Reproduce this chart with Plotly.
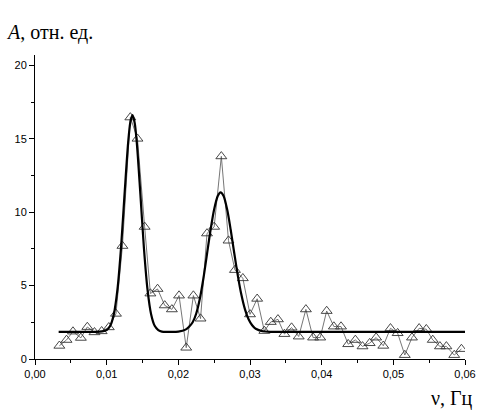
import plotly.graph_objects as go

# Measured spectrum (triangles)
freq = [0.0034, 0.0044, 0.0053, 0.0064, 0.0073, 0.0083, 0.0093, 0.0103, 0.0113, 0.0122,
        0.0133, 0.0143, 0.0153, 0.0161, 0.0171, 0.0181, 0.0191, 0.0201, 0.0211, 0.0221,
        0.0231, 0.0240, 0.0250, 0.0260, 0.0270, 0.0279, 0.0290, 0.0300, 0.0310, 0.0320,
        0.0329, 0.0339, 0.0348, 0.0358, 0.0368, 0.0378, 0.0388, 0.0398, 0.0407, 0.0417,
        0.0427, 0.0437, 0.0447, 0.0457, 0.0467, 0.0476, 0.0486, 0.0496, 0.0506, 0.0516,
        0.0526, 0.0536, 0.0546, 0.0555, 0.0565, 0.0574, 0.0585, 0.0595]
amp = [0.90, 1.30, 1.87, 1.44, 2.18, 1.82, 1.89, 2.16, 3.08, 7.70,
       16.45, 15.00, 9.00, 4.46, 4.77, 3.65, 3.38, 4.32, 0.77, 4.32,
       2.75, 8.55, 9.00, 13.80, 8.06, 6.06, 5.50, 3.04, 4.10, 1.91,
       2.52, 2.70, 1.70, 2.14, 1.53, 3.38, 1.46, 1.46, 3.27, 2.21,
       2.21, 1.01, 1.30, 0.86, 1.08, 1.46, 0.90, 2.09, 1.76, 0.27,
       1.46, 2.09, 2.03, 1.30, 0.86, 0.86, 0.27, 0.68]

# Fitted curve
fit_freq = [0.0033, 0.0060, 0.0080, 0.0090, 0.0100, 0.0105, 0.0110, 0.0115, 0.0120, 0.0125,
            0.0130, 0.0133, 0.0136, 0.0139, 0.0142, 0.0147, 0.0152, 0.0157, 0.0162, 0.0167,
            0.0172, 0.0177, 0.0190, 0.0200, 0.0210, 0.0215, 0.0220, 0.0225, 0.0230, 0.0235,
            0.0240, 0.0245, 0.0250, 0.0255, 0.0259, 0.0263, 0.0268, 0.0273, 0.0278, 0.0283,
            0.0288, 0.0293, 0.0298, 0.0303, 0.0308, 0.0318, 0.0330, 0.0400, 0.0500, 0.0600]
fit_amp = [1.85, 1.85, 1.85, 1.86, 1.97, 2.26, 3.05, 4.72, 7.55, 11.26,
           14.75, 16.11, 16.60, 16.11, 14.75, 11.26, 7.55, 4.72, 3.05, 2.26,
           1.97, 1.86, 1.85, 1.87, 2.00, 2.20, 2.50, 3.10, 4.10, 5.50,
           7.15, 8.80, 10.20, 11.10, 11.35, 11.11, 10.21, 8.82, 7.22, 5.68,
           4.37, 3.38, 2.71, 2.30, 2.06, 1.89, 1.85, 1.85, 1.85, 1.85]

x_ticks = [0.00, 0.01, 0.02, 0.03, 0.04, 0.05, 0.06]
y_ticks = [0, 5, 10, 15, 20]

fig = go.Figure()
fig.add_trace(go.Scatter(
    x=freq, y=amp, mode="lines+markers",
    line=dict(color="#666666", width=0.9),
    marker=dict(symbol="triangle-up-open", size=9.5, color="#333333", line=dict(width=0.9)),
    showlegend=False, hoverinfo="skip"))
fig.add_trace(go.Scatter(
    x=fit_freq, y=fit_amp, mode="lines",
    line=dict(color="black", width=2.2, shape="spline", smoothing=0.8),
    showlegend=False, hoverinfo="skip"))

tickfont = dict(family="Liberation Sans, Arial, sans-serif", size=11, color="black")
fig.update_layout(
    width=488, height=413,
    margin=dict(l=35, r=14, t=55, b=54),
    paper_bgcolor="white", plot_bgcolor="white",
    separators=", ",
    xaxis=dict(range=[0, 0.06], tickvals=x_ticks, tickformat=".2f",
               showgrid=False, zeroline=False, showline=True, linecolor="black", linewidth=1,
               ticks="outside", ticklen=5, tickwidth=1, tickcolor="black", tickfont=tickfont,
               minor=dict(dtick=0.005, ticks="outside", ticklen=3, tickcolor="black", showgrid=False)),
    yaxis=dict(range=[0, 20.7], tickvals=y_ticks,
               showgrid=False, zeroline=False, showline=True, linecolor="black", linewidth=1,
               ticks="outside", ticklen=5, tickwidth=1, tickcolor="black", tickfont=tickfont,
               minor=dict(dtick=2.5, ticks="outside", ticklen=3, tickcolor="black", showgrid=False)),
    annotations=[
        dict(text="<i>A</i>, отн. ед.", xref="paper", yref="paper",
             x=-0.072, y=1.074, xanchor="left", yanchor="middle", showarrow=False,
             font=dict(family="Liberation Serif, Times New Roman, serif", size=20, color="black")),
        dict(text="ν, Гц", xref="paper", yref="paper",
             x=1.0228, y=-0.13, xanchor="right", yanchor="middle", showarrow=False,
             font=dict(family="Liberation Serif, Times New Roman, serif", size=20, color="black")),
    ],
)

fig.write_html("out.html", config={"displayModeBar": False, "staticPlot": True},
               post_script="document.body.style.margin='0';document.body.style.overflow='hidden';")
